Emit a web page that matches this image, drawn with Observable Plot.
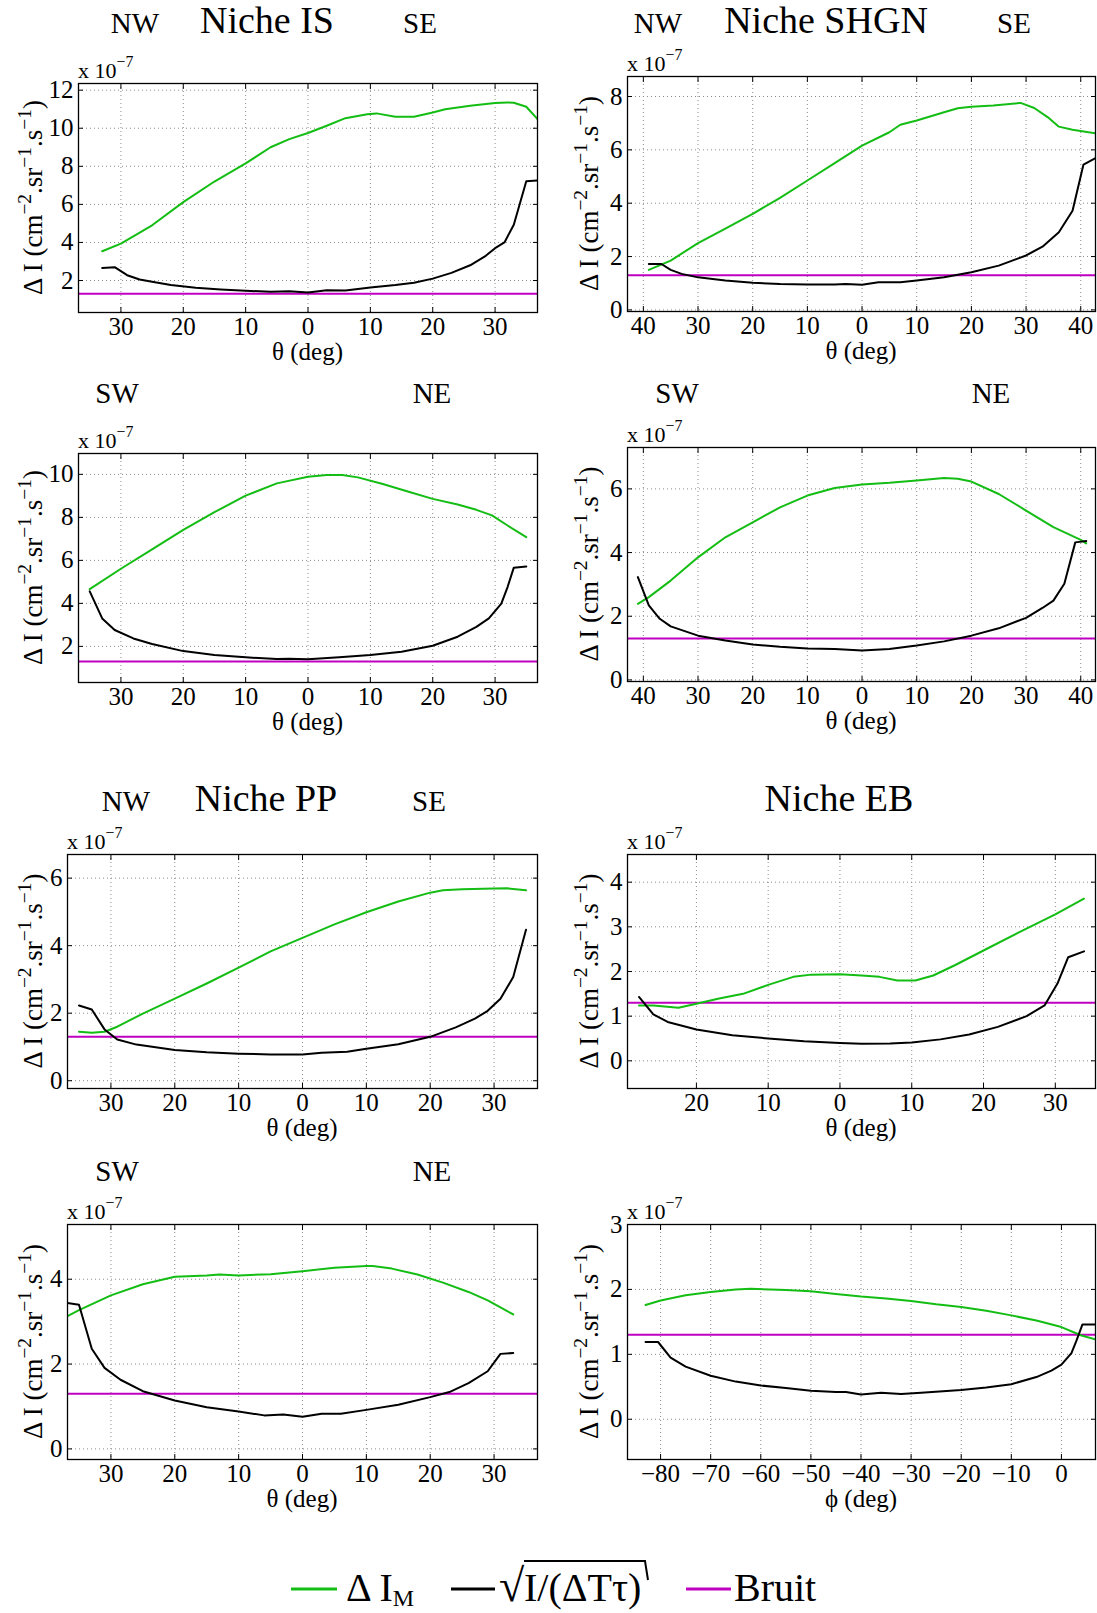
<!DOCTYPE html>
<html>
<head>
<meta charset="utf-8">
<script src="https://cdn.jsdelivr.net/npm/d3@7"></script>
<script src="https://cdn.jsdelivr.net/npm/@observablehq/plot@0.6"></script>
<style>
  body { margin: 0; background: #fff; }
  #page { position: relative; width: 1097px; height: 1613px; overflow: hidden; background: #fff; }
  .panel { position: absolute; }
  .panel svg { display: block; overflow: visible; font-family: 'Liberation Serif', 'Times New Roman', serif !important; }
  .panel svg text { font-family: 'Liberation Serif', 'Times New Roman', serif !important; font-size: 25px !important; fill: #000; }
  #overlay { position: absolute; left: 0; top: 0; pointer-events: none; }
</style>
</head>
<body>
<div id="page"></div>
<script>
// ---------------- DATA (values in units of 1e-7 cm^-2.sr^-1.s^-1) ----------------
const BRUIT = 1.3;

// Niche IS, NW–SE
const is1GreenX = [-33,-30,-25,-20,-15,-10,-6,-3,0,3,6,9.5,11,14,17,20,22,26,30,32,33,35,36.8];
const is1Green  = [3.54,3.94,4.9,6.12,7.2,8.15,9.0,9.43,9.75,10.13,10.53,10.74,10.78,10.6,10.6,10.83,11.0,11.18,11.32,11.35,11.34,11.13,10.48];
const is1BlackX = [-33,-31,-29,-27,-25,-22,-18,-14,-10,-6,-3,0,3,6,10,14,17,20,23,26,28.5,30,31.5,33,35,36.8];
const is1Black  = [2.66,2.7,2.28,2.05,1.93,1.76,1.62,1.53,1.46,1.41,1.44,1.37,1.49,1.48,1.63,1.76,1.88,2.1,2.4,2.8,3.3,3.7,4.0,4.93,7.22,7.25];

// Niche SHGN, NW–SE
const shgn1GreenX = [-39,-35,-30,-25,-20,-15,-10,-5,0,5,7,10,15,17.5,20,24,27,29,31.5,34,36,38.5,42.8];
const shgn1Green  = [1.5,1.85,2.5,3.05,3.6,4.2,4.85,5.5,6.16,6.66,6.94,7.1,7.41,7.56,7.62,7.66,7.72,7.76,7.57,7.22,6.87,6.75,6.62];
const shgn1BlackX = [-39,-36.7,-35,-33,-30,-25,-20,-15,-10,-5,-3,0,3,7,10,15,20,25,30,33,36,38.5,40.5,42.8];
const shgn1Black  = [1.72,1.72,1.5,1.35,1.22,1.1,1.02,0.97,0.95,0.95,0.97,0.94,1.04,1.04,1.1,1.22,1.41,1.66,2.04,2.37,2.91,3.72,5.45,5.7];

// Niche IS, SW–NE
const is2GreenX = [-35,-30,-25,-20,-15,-10,-5,0,3,5.5,8,12,16,20,24,27,29.5,32,35];
const is2Green  = [4.66,5.61,6.51,7.42,8.24,9.01,9.58,9.89,9.97,9.97,9.86,9.55,9.2,8.86,8.6,8.35,8.09,7.62,7.08];
const is2BlackX = [-35,-33,-31,-28,-25,-20,-15,-10,-5,-3,0,5,10,15,20,24,27,29,31,32,33,35];
const is2Black  = [4.56,3.3,2.76,2.37,2.11,1.78,1.6,1.49,1.41,1.43,1.4,1.49,1.6,1.75,2.03,2.45,2.91,3.3,3.99,4.76,5.66,5.72];

// Niche SHGN, SW–NE
const shgn2GreenX = [-41,-39,-35,-30,-25,-20,-15,-10,-5,0,5,10,15,17.5,20,25,30,35,40,41];
const shgn2Green  = [2.39,2.6,3.12,3.85,4.48,4.95,5.42,5.79,6.03,6.14,6.19,6.26,6.34,6.32,6.23,5.84,5.32,4.8,4.4,4.29];
const shgn2BlackX = [-41,-39,-37,-35,-30,-25,-20,-15,-10,-5,0,5,10,15,20,25,30,33,35,37,39,41];
const shgn2Black  = [3.23,2.34,1.92,1.68,1.39,1.24,1.11,1.04,0.99,0.97,0.92,0.97,1.08,1.21,1.39,1.62,1.95,2.26,2.49,3.02,4.32,4.36];

// Niche PP, NW–SE
const pp1GreenX = [-35,-33,-31,-29,-25,-20,-15,-10,-5,0,5,10,15,20,22,25,30,32,35];
const pp1Green  = [1.45,1.42,1.45,1.6,1.99,2.43,2.88,3.35,3.83,4.23,4.63,4.99,5.31,5.57,5.64,5.67,5.69,5.7,5.64];
const pp1BlackX = [-35,-33,-31,-29,-26,-20,-15,-10,-5,0,3,7,10,15,20,24,27,29,31,33,35];
const pp1Black  = [2.23,2.11,1.52,1.22,1.07,0.91,0.84,0.8,0.78,0.78,0.83,0.86,0.95,1.08,1.3,1.58,1.84,2.07,2.43,3.07,4.47];

// Niche EB, theta
const eb1GreenX = [-28,-26,-22.5,-20,-17,-13.5,-10,-6.5,-4,0,3,5.5,8,10.5,13,16,20,25,30,34];
const eb1Green  = [1.24,1.24,1.19,1.28,1.39,1.5,1.7,1.88,1.93,1.94,1.91,1.88,1.8,1.8,1.91,2.14,2.47,2.88,3.28,3.63];
const eb1BlackX = [-28,-26,-24,-20,-15,-10,-5,0,3,7,10,14,18,22,26,28.5,30.3,31.8,34];
const eb1Black  = [1.43,1.04,0.87,0.7,0.57,0.5,0.44,0.4,0.38,0.39,0.41,0.48,0.59,0.76,1.0,1.24,1.73,2.32,2.45];

// Niche PP, SW–NE
const pp2GreenX = [-36.8,-35,-30,-25,-20,-15,-13,-10,-5,0,5,10,11,14,18,22,26,29,33];
const pp2Green  = [3.13,3.27,3.62,3.88,4.06,4.09,4.11,4.09,4.12,4.19,4.27,4.31,4.31,4.25,4.11,3.92,3.7,3.5,3.17];
const pp2BlackX = [-36.8,-35,-33,-31,-28.5,-25,-20,-15,-10,-6,-3,0,3,6,10,15,20,23,26,29,31,33];
const pp2Black  = [3.44,3.4,2.36,1.91,1.63,1.36,1.14,0.98,0.88,0.79,0.81,0.76,0.83,0.83,0.92,1.04,1.22,1.34,1.55,1.83,2.24,2.26];

// Niche EB, phi
const eb2GreenX = [-83,-80,-75,-70,-65,-62,-55,-50,-45,-40,-35,-30,-25,-20,-15,-10,-5,0,4,6.8];
const eb2Green  = [1.76,1.83,1.91,1.96,2.0,2.01,1.99,1.97,1.93,1.89,1.86,1.82,1.77,1.73,1.67,1.6,1.52,1.42,1.29,1.23];
const eb2BlackX = [-83,-80.5,-78,-75,-70,-65,-60,-55,-50,-45,-43,-40,-36,-32,-28,-20,-15,-10,-5,-2,0,2,3,4.2,6.8];
const eb2Black  = [1.19,1.19,0.95,0.81,0.67,0.58,0.52,0.48,0.44,0.42,0.42,0.38,0.41,0.39,0.41,0.45,0.49,0.54,0.65,0.75,0.84,1.02,1.21,1.46,1.46];

// Tick values
const thetaTicks30 = [-30,-20,-10,0,10,20,30];
const thetaTicks40 = [-40,-30,-20,-10,0,10,20,30,40];
const thetaTicksEB = [-20,-10,0,10,20,30];
const phiTicks     = [-80,-70,-60,-50,-40,-30,-20,-10,0];
const yTicksIS1   = [2,4,6,8,10,12];
const yTicksSHGN1 = [0,2,4,6,8];
const yTicksIS2   = [2,4,6,8,10];
const yTicksSHGN2 = [0,2,4,6];
const yTicksPP1   = [0,2,4,6];
const yTicksEB1   = [0,1,2,3,4];
const yTicksPP2   = [0,2,4];
const yTicksEB2   = [0,1,2,3];

// Text labels
const titles = [
  {text: "NW", x: 135, y: 33, size: 29}, {text: "Niche IS", x: 267, y: 33, size: 38}, {text: "SE", x: 420, y: 33, size: 29},
  {text: "NW", x: 658, y: 33, size: 29}, {text: "Niche SHGN", x: 826, y: 33, size: 38}, {text: "SE", x: 1014, y: 33, size: 29},
  {text: "SW", x: 117, y: 403, size: 29}, {text: "NE", x: 432, y: 403, size: 29},
  {text: "SW", x: 677, y: 403, size: 29}, {text: "NE", x: 991, y: 403, size: 29},
  {text: "NW", x: 126, y: 811, size: 29}, {text: "Niche PP", x: 266, y: 811, size: 38}, {text: "SE", x: 429, y: 811, size: 29},
  {text: "Niche EB", x: 839, y: 811, size: 38},
  {text: "SW", x: 117, y: 1181, size: 29}, {text: "NE", x: 432, y: 1181, size: 29}
];

// ---------------- STYLE ----------------
const FONT = "'Liberation Serif', 'Times New Roman', serif";
const GREEN = "#14bd14";
const MAGENTA = "#c000c0";
const GRID = "#8c8c8c";

const absFmt = d => String(Math.abs(d));
const signFmt = d => (d < 0 ? "\u2212" + Math.abs(d) : String(d));
const plainFmt = d => String(d);

const panels = [
  {frame: {L: 78, R: 537, T: 83, B: 312}, xDomain: [-36.8, 36.8], yDomain: [0.32, 12.35], xTicks: thetaTicks30, yTicks: yTicksIS1,
   gx: is1GreenX, g: is1Green, bx: is1BlackX, b: is1Black, xFmt: absFmt, xLabel: "θ (deg)", ylx: 42},
  {frame: {L: 627, R: 1095, T: 76, B: 311}, xDomain: [-42.9, 42.7], yDomain: [-0.06, 8.75], xTicks: thetaTicks40, yTicks: yTicksSHGN1,
   gx: shgn1GreenX, g: shgn1Green, bx: shgn1BlackX, b: shgn1Black, xFmt: absFmt, xLabel: "θ (deg)", ylx: 598},
  {frame: {L: 78, R: 537, T: 453, B: 682}, xDomain: [-36.8, 36.8], yDomain: [0.32, 10.97], xTicks: thetaTicks30, yTicks: yTicksIS2,
   gx: is2GreenX, g: is2Green, bx: is2BlackX, b: is2Black, xFmt: absFmt, xLabel: "θ (deg)", ylx: 42},
  {frame: {L: 627, R: 1095, T: 447, B: 681}, xDomain: [-42.9, 42.7], yDomain: [-0.05, 7.3], xTicks: thetaTicks40, yTicks: yTicksSHGN2,
   gx: shgn2GreenX, g: shgn2Green, bx: shgn2BlackX, b: shgn2Black, xFmt: absFmt, xLabel: "θ (deg)", ylx: 598},
  {frame: {L: 67, R: 537, T: 854, B: 1088}, xDomain: [-36.8, 36.8], yDomain: [-0.23, 6.7], xTicks: thetaTicks30, yTicks: yTicksPP1,
   gx: pp1GreenX, g: pp1Green, bx: pp1BlackX, b: pp1Black, xFmt: absFmt, xLabel: "θ (deg)", ylx: 42},
  {frame: {L: 627, R: 1095, T: 854, B: 1088}, xDomain: [-29.6, 35.6], yDomain: [-0.62, 4.62], xTicks: thetaTicksEB, yTicks: yTicksEB1,
   gx: eb1GreenX, g: eb1Green, bx: eb1BlackX, b: eb1Black, xFmt: absFmt, xLabel: "θ (deg)", ylx: 598},
  {frame: {L: 67, R: 537, T: 1224, B: 1459}, xDomain: [-36.8, 36.8], yDomain: [-0.25, 5.29], xTicks: thetaTicks30, yTicks: yTicksPP2,
   gx: pp2GreenX, g: pp2Green, bx: pp2BlackX, b: pp2Black, xFmt: absFmt, xLabel: "θ (deg)", ylx: 42},
  {frame: {L: 627, R: 1095, T: 1224, B: 1459}, xDomain: [-86.6, 6.8], yDomain: [-0.62, 3.0], xTicks: phiTicks, yTicks: yTicksEB2,
   gx: eb2GreenX, g: eb2Green, bx: eb2BlackX, b: eb2Black, xFmt: signFmt, xLabel: "ϕ (deg)", ylx: 598}
];

const page = document.getElementById("page");

const mL = 60, mR = 2, mT = 2, mB = 40;
for (const p of panels) {
  const {L, R, T, B} = p.frame;
  const green = p.gx.map((x, i) => ({x, y: p.g[i]}));
  const black = p.bx.map((x, i) => ({x, y: p.b[i]}));
  const empty = () => "";
  const chart = Plot.plot({
    width: R - L + mL + mR,
    height: B - T + mT + mB,
    marginLeft: mL, marginRight: mR, marginTop: mT, marginBottom: mB,
    style: {fontFamily: FONT, fontSize: "25px", color: "#000", background: "transparent", overflow: "visible"},
    x: {domain: p.xDomain, axis: null},
    y: {domain: p.yDomain, axis: null},
    marks: [
      Plot.gridX(p.xTicks, {stroke: GRID, strokeOpacity: 1, strokeWidth: 1, strokeDasharray: "1,3"}),
      Plot.gridY(p.yTicks, {stroke: GRID, strokeOpacity: 1, strokeWidth: 1, strokeDasharray: "1,3"}),
      Plot.ruleY([BRUIT], {stroke: MAGENTA, strokeWidth: 2}),
      Plot.line(green, {x: "x", y: "y", stroke: GREEN, strokeWidth: 2, clip: true}),
      Plot.line(black, {x: "x", y: "y", stroke: "#000", strokeWidth: 2, clip: true}),
      Plot.axisX(p.xTicks, {anchor: "bottom", tickSize: 0, tickPadding: 5, tickFormat: p.xFmt, fontFamily: FONT, fontSize: 25, label: null}),
      Plot.axisY(p.yTicks, {anchor: "left", tickSize: 0, tickPadding: 5, tickFormat: plainFmt, fontFamily: FONT, fontSize: 25, label: null}),
      Plot.axisX(p.xTicks, {anchor: "bottom", tickSize: -5, tickFormat: empty, label: null}),
      Plot.axisX(p.xTicks, {anchor: "top", tickSize: -5, tickFormat: empty, label: null}),
      Plot.axisY(p.yTicks, {anchor: "left", tickSize: -5, tickFormat: empty, label: null}),
      Plot.axisY(p.yTicks, {anchor: "right", tickSize: -5, tickFormat: empty, label: null}),
      Plot.frame({stroke: "#000", strokeWidth: 1.3})
    ]
  });
  const div = document.createElement("div");
  div.className = "panel";
  div.style.left = (L - mL) + "px";
  div.style.top = (T - mT) + "px";
  div.appendChild(chart);
  page.appendChild(div);
}

// ---------------- TEXT OVERLAY ----------------
const svg = d3.select(page).append("svg")
  .attr("id", "overlay").attr("width", 1097).attr("height", 1613)
  .style("font-family", FONT).attr("fill", "#000");

function richText(parent, parts, size, raise, supScale) {
  let up = false;
  for (const part of parts) {
    const ts = parent.append("tspan").text(part.t);
    if (part.sup && !up) { ts.attr("dy", -raise); up = true; }
    else if (!part.sup && up) { ts.attr("dy", raise); up = false; }
    if (part.sup) ts.attr("font-size", size * supScale);
  }
}

for (const t of titles) {
  svg.append("text").attr("x", t.x).attr("y", t.y).attr("text-anchor", "middle")
    .attr("font-size", t.size).text(t.text);
}

const yLabelParts = [{t: "Δ I (cm"}, {t: "−2", sup: true}, {t: ".sr"}, {t: "−1", sup: true}, {t: ".s"}, {t: "−1", sup: true}, {t: ")"}];
for (const p of panels) {
  const {L, R, T, B} = p.frame;
  // x label
  svg.append("text").attr("x", (L + R) / 2).attr("y", B + 48).attr("text-anchor", "middle")
    .attr("font-size", 25).text(p.xLabel);
  // y label
  const yl = svg.append("text").attr("text-anchor", "middle").attr("font-size", 27)
    .attr("transform", `translate(${p.ylx},${(T + B) / 2}) rotate(-90)`);
  richText(yl, yLabelParts, 27, 11, 0.72);
  // exponent
  const ex = svg.append("text").attr("x", L).attr("y", T - 5).attr("font-size", 22);
  richText(ex, [{t: "x 10"}, {t: "−7", sup: true}], 22, 11, 0.72);
}

// ---------------- LEGEND ----------------
const legendY = 1589, legendBase = 1601;
const leg = svg.append("g");
leg.append("line").attr("x1", 291).attr("x2", 337).attr("y1", legendY).attr("y2", legendY).attr("stroke", GREEN).attr("stroke-width", 3);
const t1 = leg.append("text").attr("x", 346).attr("y", legendBase).attr("font-size", 40);
t1.append("tspan").text("Δ I");
t1.append("tspan").attr("dy", 5).attr("font-size", 24).text("M");
leg.append("line").attr("x1", 451).attr("x2", 495).attr("y1", legendY).attr("y2", legendY).attr("stroke", "#000").attr("stroke-width", 3);
leg.append("text").attr("x", 499).attr("y", legendBase).attr("font-size", 46).text("√");
leg.append("path").attr("d", "M524,1561 H645 L648,1580").attr("fill", "none").attr("stroke", "#000").attr("stroke-width", 2);
leg.append("text").attr("x", 524).attr("y", legendBase).attr("font-size", 40).text("I/(ΔTτ)");
leg.append("line").attr("x1", 686).attr("x2", 731).attr("y1", legendY).attr("y2", legendY).attr("stroke", MAGENTA).attr("stroke-width", 3);
leg.append("text").attr("x", 734).attr("y", legendBase).attr("font-size", 40).text("Bruit");
</script>
</body>
</html>
